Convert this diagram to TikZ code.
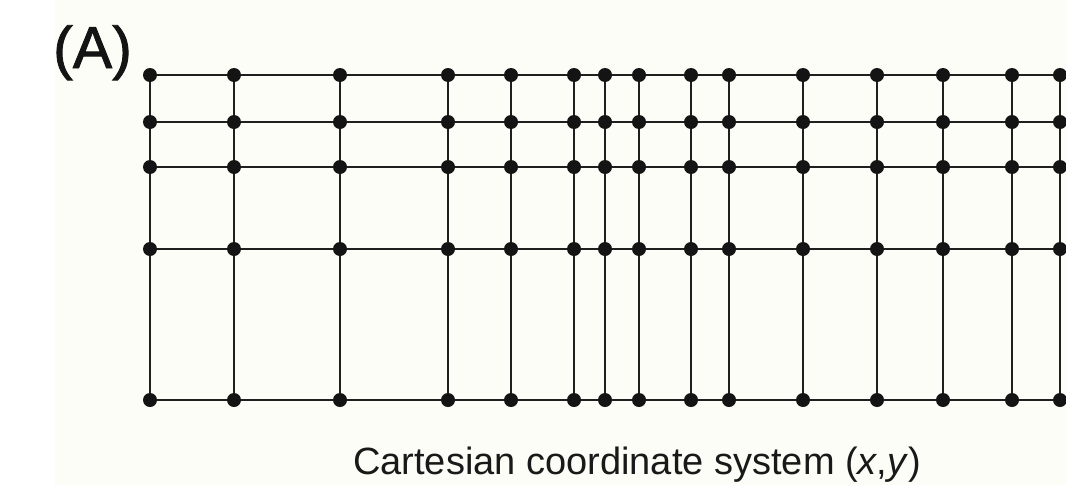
\documentclass[tikz,border=0pt]{standalone}
\usepackage{fontspec}
\setmainfont{Liberation Sans}
\newfontfamily\labfont[FakeBold=1.4]{Liberation Sans}
\begin{document}
\begin{tikzpicture}[x=1pt,y=-1pt,
  gridpt/.style={circle,fill=black!92,inner sep=0pt,minimum size=14pt},
  gridline/.style={line width=2.8pt,draw=black!88},
  labelA/.style={anchor=base west,inner sep=0pt,font=\labfont\fontsize{59}{70}\selectfont,text=black!92},
  caption/.style={anchor=base west,inner sep=0pt,font=\fontsize{38}{46}\selectfont,text=black!90}]
  \definecolor{paper}{RGB}{253,253,247}
  % canvas
  \fill[paper] (0,0) rectangle (1066,485);
  \fill[white] (0,0) rectangle (55,485);
  \useasboundingbox (0,0) rectangle (1066,485);
  \clip (0,0) rectangle (1066,485);

  % column and row positions of the grid points
  \def\cols{150,234,340,448,511,574,605,639,691,729,803,877,943,1012,1060}
  \def\rows{75,122,167,249,400}

  % grid points
  \foreach \x [count=\i] in \cols {
    \foreach \y [count=\j] in \rows {
      \node[gridpt] (p-\i-\j) at (\x,\y) {};
    }
  }

  % horizontal lines
  \foreach \j in {1,...,5} {
    \foreach \i [evaluate=\i as \k using int(\i+1)] in {1,...,14} {
      \draw[gridline] (p-\i-\j) -- (p-\k-\j);
    }
  }
  % vertical lines
  \foreach \i in {1,...,15} {
    \foreach \j [evaluate=\j as \k using int(\j+1)] in {1,...,4} {
      \draw[gridline] (p-\i-\j) -- (p-\i-\k);
    }
  }

  % labels
  \node[labelA] (lab) at (53,68) {(A)};
  \node[caption] (cap) at (353,474) {Cartesian coordinate system (\textit{x},\textit{y})};
\end{tikzpicture}
\end{document}
